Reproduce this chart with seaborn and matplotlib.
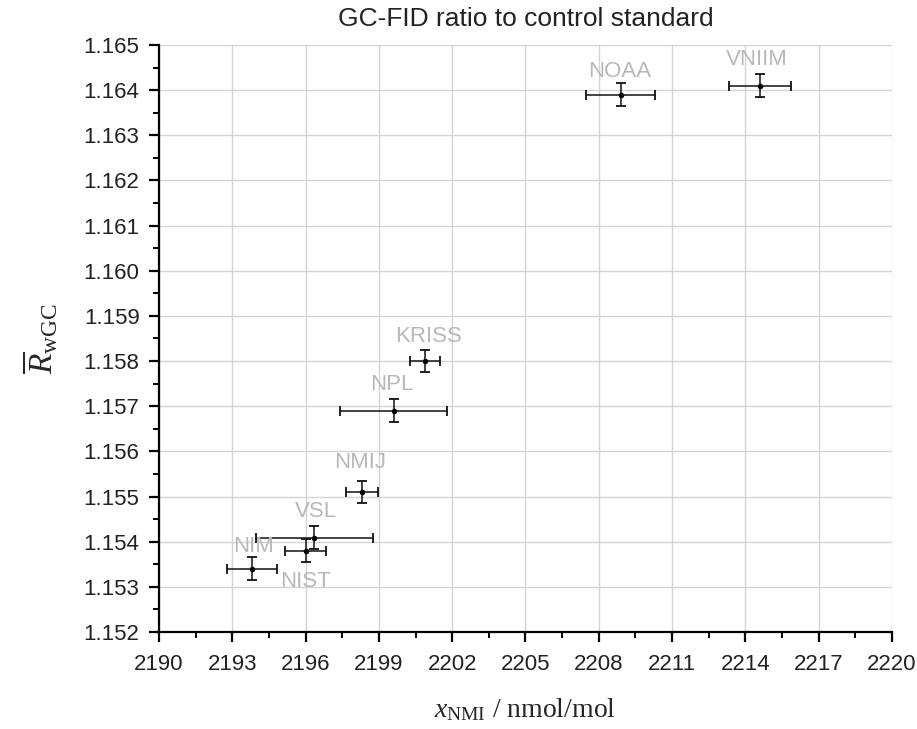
import numpy as np
import pandas as pd
import matplotlib.pyplot as plt
from matplotlib.ticker import MultipleLocator
import seaborn as sns

# values
labs = ['NIM', 'NIST', 'VSL', 'NMIJ', 'NPL', 'KRISS', 'NOAA', 'VNIIM']
x_nmi = [2193.8, 2196.0, 2196.35, 2198.3, 2199.6, 2200.9, 2208.9, 2214.6]
x_err = [1.02, 0.84, 2.4, 0.65, 2.19, 0.61, 1.41, 1.27]
r_gc = [1.1534, 1.1538, 1.15409, 1.1551, 1.1569, 1.1580, 1.1639, 1.1641]
r_err = [0.00025, 0.00025, 0.00025, 0.00025, 0.00025, 0.00025, 0.00025, 0.00025]

# label offsets (points) relative to each point
lab_dx = [1, 0, 1, -1, -1, 2, -1, -2]
lab_dy = [16, -22, 19, 21, 19, 18, 17, 19]

df = pd.DataFrame({'lab': labs, 'x': x_nmi, 'xe': x_err, 'y': r_gc, 'ye': r_err})

sns.set_style('white')
plt.rcParams['font.family'] = ['Liberation Sans', 'DejaVu Sans']
plt.rcParams['mathtext.fontset'] = 'custom'
plt.rcParams['mathtext.rm'] = 'Liberation Serif'
plt.rcParams['mathtext.it'] = 'Liberation Serif:italic'

fig, ax = plt.subplots(figsize=(9.17, 7.29), dpi=100)
fig.subplots_adjust(left=0.1734, right=0.9727, top=0.9383, bottom=0.1331)

ax.errorbar(df['x'], df['y'], xerr=df['xe'], yerr=df['ye'], fmt='none',
            ecolor='#111111', elinewidth=1.1, capsize=3.5, capthick=1.3, zorder=3)
sns.scatterplot(data=df, x='x', y='y', ax=ax, color='black', s=16,
                edgecolor='black', linewidth=0, zorder=4, legend=False)

for i in range(len(labs)):
    ax.annotate(labs[i], (x_nmi[i], r_gc[i]), xytext=(lab_dx[i], lab_dy[i]),
                textcoords='offset points', ha='center', va='center',
                fontsize=16, color='#b8b8b8', zorder=5)

ax.set_xlim(2190, 2220)
ax.set_ylim(1.152, 1.165)
ax.xaxis.set_major_locator(MultipleLocator(3))
ax.xaxis.set_minor_locator(MultipleLocator(1.5))
ax.yaxis.set_major_locator(MultipleLocator(0.001))
ax.yaxis.set_minor_locator(MultipleLocator(0.0005))
ax.yaxis.set_major_formatter(plt.FuncFormatter(lambda v, p: f'{v:.3f}'))

ax.grid(True, which='major', color='#d4d4d4', linewidth=1.0)
for s in ['top', 'right']:
    ax.spines[s].set_visible(False)
for s in ['left', 'bottom']:
    ax.spines[s].set_color('black')
    ax.spines[s].set_linewidth(1.6)

ax.tick_params(which='major', direction='out', length=7, width=1.6,
               labelsize=16, color='black', labelcolor='#222222',
               left=True, bottom=True)
ax.tick_params(axis='x', which='major', pad=9)
ax.tick_params(axis='y', which='major', pad=7)
ax.tick_params(which='minor', direction='out', length=4, width=1.4,
               color='black', left=True, bottom=True)

ax.set_title('GC-FID ratio to control standard', fontsize=19, pad=14,
             color='#222222')
ax.set_xlabel(r'$x_{\mathrm{NMI}}$ / nmol/mol', fontsize=20, labelpad=15,
              fontfamily='Liberation Serif')
ax.set_ylabel(r'$\overline{R}_{\mathrm{wGC}}$', fontsize=24, labelpad=17)

plt.savefig('out.png', dpi=100)
